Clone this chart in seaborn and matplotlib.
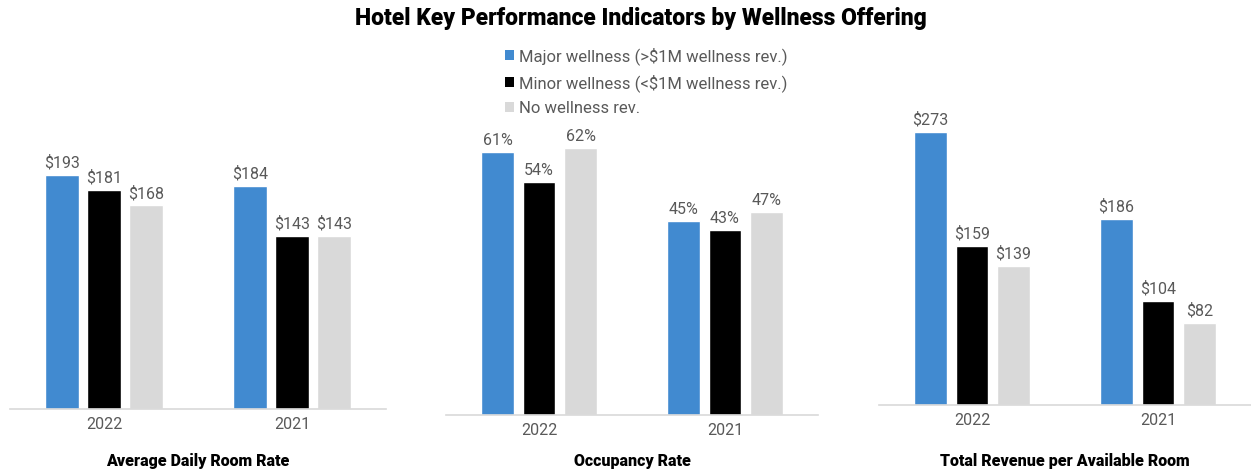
import matplotlib
matplotlib.use("Agg")
import matplotlib.pyplot as plt
import seaborn as sns
import pandas as pd
from matplotlib.patches import Patch

years = ["2022", "2021"]
groups = ["Major wellness (>$1M wellness rev.)",
          "Minor wellness (<$1M wellness rev.)",
          "No wellness rev."]
adr = {"2022": [193, 181, 168], "2021": [184, 143, 143]}
occ = {"2022": [61, 54, 62], "2021": [45, 43, 47]}
revpar = {"2022": [273, 159, 139], "2021": [186, 104, 82]}
panel_titles = ["Average Daily Room Rate", "Occupancy Rate",
                "Total Revenue per Available Room"]
title = "Hotel Key Performance Indicators by Wellness Offering"
colors = ["#418AD0", "#000000", "#D9D9D9"]

sns.set_theme(style="white")
plt.rcParams["font.family"] = ["Roboto", "DejaVu Sans"]

def to_df(d):
    rows = []
    for y in years:
        for g, v in zip(groups, d[y]):
            rows.append({"year": y, "group": g, "value": v})
    return pd.DataFrame(rows)

fig = plt.figure(figsize=(12.51, 4.70), dpi=100)
W, H = 1251, 470
specs = [
    (10, 386, 409, 255, "${:.0f}", adr),
    (446, 818, 415, 73.1, "{:.0f}%", occ),
    (879, 1251, 405, 305, "${:.0f}", revpar),
]
top_px = 100
for i, (l, r, b, ymax, fmt, d) in enumerate(specs):
    ax = fig.add_axes([l / W, 1 - b / H, (r - l) / W, (b - top_px) / H])
    df = to_df(d)
    sns.barplot(data=df, x="year", y="value", hue="group", order=years,
                hue_order=groups, palette=colors, width=0.67, gap=0.21,
                ax=ax, legend=False, saturation=1)
    for c in ax.containers:
        ax.bar_label(c, labels=[fmt.format(v) for v in c.datavalues],
                     padding=3, fontsize=11.5, color="#595959")
    ax.set_xlim(-0.5, 1.5)
    ax.set_ylim(0, ymax)
    ax.set_yticks([])
    ax.set_xlabel("")
    ax.set_ylabel("")
    for s in ["top", "left", "right"]:
        ax.spines[s].set_visible(False)
    ax.spines["bottom"].set_color("#D9D9D9")
    ax.spines["bottom"].set_linewidth(1.2)
    ax.tick_params(axis="x", length=0, labelsize=11.5, labelcolor="#595959", pad=6)
    fig.text((l + r) / 2 / W, 1 - 461 / H, panel_titles[i], ha="center",
             va="center", fontsize=11.5, fontweight="black", color="#000000")

fig.text(641 / W, 1 - 18 / H, title, ha="center", va="center", fontsize=16.5,
         fontweight="black", color="#000000")

handles = [Patch(facecolor=c, edgecolor="none") for c in colors]
fig.legend(handles, groups, loc="upper left", bbox_to_anchor=(505 / W, 1 - 47 / H),
           frameon=False, fontsize=12, labelcolor="#595959",
           handlelength=0.55, handleheight=0.55, handletextpad=0.3,
           labelspacing=0.55, borderpad=0, borderaxespad=0)

fig.savefig("out.png", dpi=100)
